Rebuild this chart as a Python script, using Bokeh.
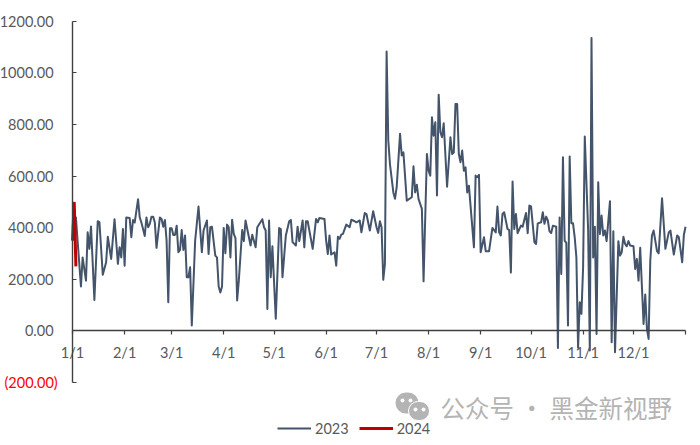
from bokeh.plotting import figure
from bokeh.models import Range1d, FixedTicker, Label, Legend, LegendItem, BoxAnnotation
from bokeh.embed import file_html
from bokeh.resources import INLINE

days_2023 = [0,2,3,5,6,8,9,10,11,13,15,16,18,20,21,23,25,27,28,29,30,31,32,34,35,36,37,39,40,41,43,44,45,46,47,48,49,50,52,53,54,55,56,57,58,59,60,61,62,63,64,65,66,67,68,69,70,71,73,75,77,78,80,81,82,83,85,86,87,88,89,90,91,92,93,94,95,96,97,98,
 99,101,102,103,106,107,109,110,113,114,115,116,117,118,119,121,123,124,125,127,129,130,131,133,134,135,137,138,139,140,143,145,146,147,150,151,152,153,154,156,157,158,159,160,161,163,165,166,168,169,171,172,174,175,177,179,181,182,183,184,185,186,187,188,189,191,192,193,195,196,197,199,202,203,204,205,206,208,209,211,212,213,214,215,216,217,218,219,220,221,223,225,226,227,228,229,230,231,232,233,234,235,236,
 239,240,241,242,243,245,246,248,250,252,253,254,255,256,257,259,260,261,262,263,264,265,267,268,270,271,272,273,275,276,277,279,280,281,282,283,284,285,286,288,289,290,291,292,293,294,295,296,297,298,299,300,301,302,303,304,305,307,308,309,310,311,312,313,314,315,316,317,318,320,321,322,323,325,326,327,328,329,330,331,332,334,335,336,337,338,340,341,342,343,344,345,346,348,349,351,353,355,356,358,360,361,363,364,365]
values_2023 = [400,440,350,172,285,195,382,318,405,120,425,422,218,266,365,279,433,260,324,285,395,253,440,438,363,430,420,510,440,420,368,440,402,415,443,443,420,322,440,434,404,430,350,111,398,398,372,372,408,305,314,391,314,370,208,208,247,21,350,482,305,389,428,298,402,404,292,285,172,149,172,399,301,412,402,285,431,376,360,118,
 195,391,348,428,331,373,324,402,433,402,389,85,428,208,328,47,399,395,208,370,425,430,344,331,404,348,428,324,425,425,318,434,421,438,434,350,298,370,296,305,253,365,357,373,376,412,402,431,425,421,428,382,457,453,389,464,402,380,425,402,198,260,1083,738,647,537,512,557,764,680,692,505,518,638,537,567,512,473,192,686,621,602,828,757,809,525,916,770,751,805,559,751,686,692,880,880,686,654,699,621,634,537,563,
 324,602,596,605,305,363,309,309,399,382,482,382,370,453,460,395,391,226,579,395,453,379,408,404,457,379,486,483,344,337,417,421,460,415,443,428,386,379,408,404,-66,440,221,673,350,341,21,676,417,417,363,285,-65,111,66,247,754,389,-76,1136,285,404,-12,576,376,447,370,389,348,503,-44,386,-83,348,292,305,365,337,328,348,331,328,240,279,195,322,27,141,8,-31,273,370,389,309,301,514,318,382,389,296,370,363,266,373,404]
days_2024 = [0,1,2]
values_2024 = [350,500,250]
x_tick_days = [0,31,59,90,120,151,181,212,243,273,304,334,365]
x_tick_labels = ["1/1","2/1","3/1","4/1","5/1","6/1","7/1","8/1","9/1","10/1","11/1","12/1",""]
y_ticks = [-200,0,200,400,600,800,1000,1200]
y_tick_labels = ["","0.00","200.00","400.00","600.00","800.00","1000.00","1200.00"]
series_names = ["2023","2024"]
watermark = "公众号 · 黑金新视野"
negative_label = "(200.00)"

FONT = "Lato"
# the frame fills the canvas so that the axes, placed at zero, are not clipped
p = figure(width=700, height=445, output_backend="svg", toolbar_location=None,
           x_range=Range1d(-42.9,373.9), y_range=Range1d(-444.4,1281),
           min_border=0, outline_line_color=None, background_fill_color="white")
p.grid.visible = False

xa = p.xaxis[0]
xa.fixed_location = 0
xa.bounds = (0,365)
xa.ticker = FixedTicker(ticks=x_tick_days)
xa.major_label_overrides = dict(zip(x_tick_days, x_tick_labels))
ya = p.yaxis[0]
ya.fixed_location = 0
ya.bounds = (-200,1200)
ya.ticker = FixedTicker(ticks=y_ticks)
ya.major_label_overrides = dict(zip(y_ticks, y_tick_labels))
for a in (xa, ya):
    a.axis_line_color = "#404040"; a.axis_line_width = 1.4
    a.major_tick_line_color = "#404040"; a.major_tick_line_width = 1.2
    a.minor_tick_line_color = None
    a.major_label_text_color = "#595959"
    a.major_label_text_font = FONT
    a.major_label_text_font_size = "14.5px"
xa.major_tick_in = 0; xa.major_tick_out = 4; xa.major_label_standoff = 9
ya.major_tick_in = 4; ya.major_tick_out = 0; ya.major_label_standoff = 19

r1 = p.line(days_2023, values_2023, line_color="#44546A", line_width=2, line_join="round")
r2 = p.line(days_2024, values_2024, line_color="#C00000", line_width=3)

p.add_layout(Label(x=4, x_units="screen", y=-200, y_units="data", text=negative_label,
                   text_color="#FF0000", text_font=FONT, text_font_size="14.5px",
                   text_baseline="middle"))

legend = Legend(items=[LegendItem(label=series_names[0], renderers=[r1]),
                       LegendItem(label=series_names[1], renderers=[r2])],
                orientation="horizontal", location=(277,7), background_fill_alpha=0,
                border_line_color=None, label_text_font=FONT, label_text_font_size="14.5px",
                label_text_color="#595959", glyph_width=34, label_standoff=4, spacing=10,
                padding=2, margin=0)
p.add_layout(legend, "center")

p.add_layout(Label(x=440, x_units="screen", y=38, y_units="screen", text=watermark,
                   text_color="#B4B4B4", text_font="Noto Sans CJK SC", text_font_size="24.5px",
                   text_baseline="middle"))

# WeChat mark of the watermark
def dot(l, r, t, b, color, rad, line="white", lw=0):
    p.add_layout(BoxAnnotation(left=l, right=r, top=t, bottom=b, left_units="screen", right_units="screen",
                               top_units="screen", bottom_units="screen", fill_color=color, fill_alpha=1,
                               line_color=line, line_width=lw, line_alpha=1 if lw else 0, border_radius=rad))
dot(395, 418, 53, 32, "#B4B4B4", 11)
dot(408, 429, 44, 25, "#B4B4B4", 10, lw=1)
for (cx, cy) in [(402, 45), (410, 45), (415, 36), (423, 36)]:
    dot(cx-2, cx+2, cy+2, cy-2, "white", 2)

open("out.html","w").write(file_html(p, INLINE))
